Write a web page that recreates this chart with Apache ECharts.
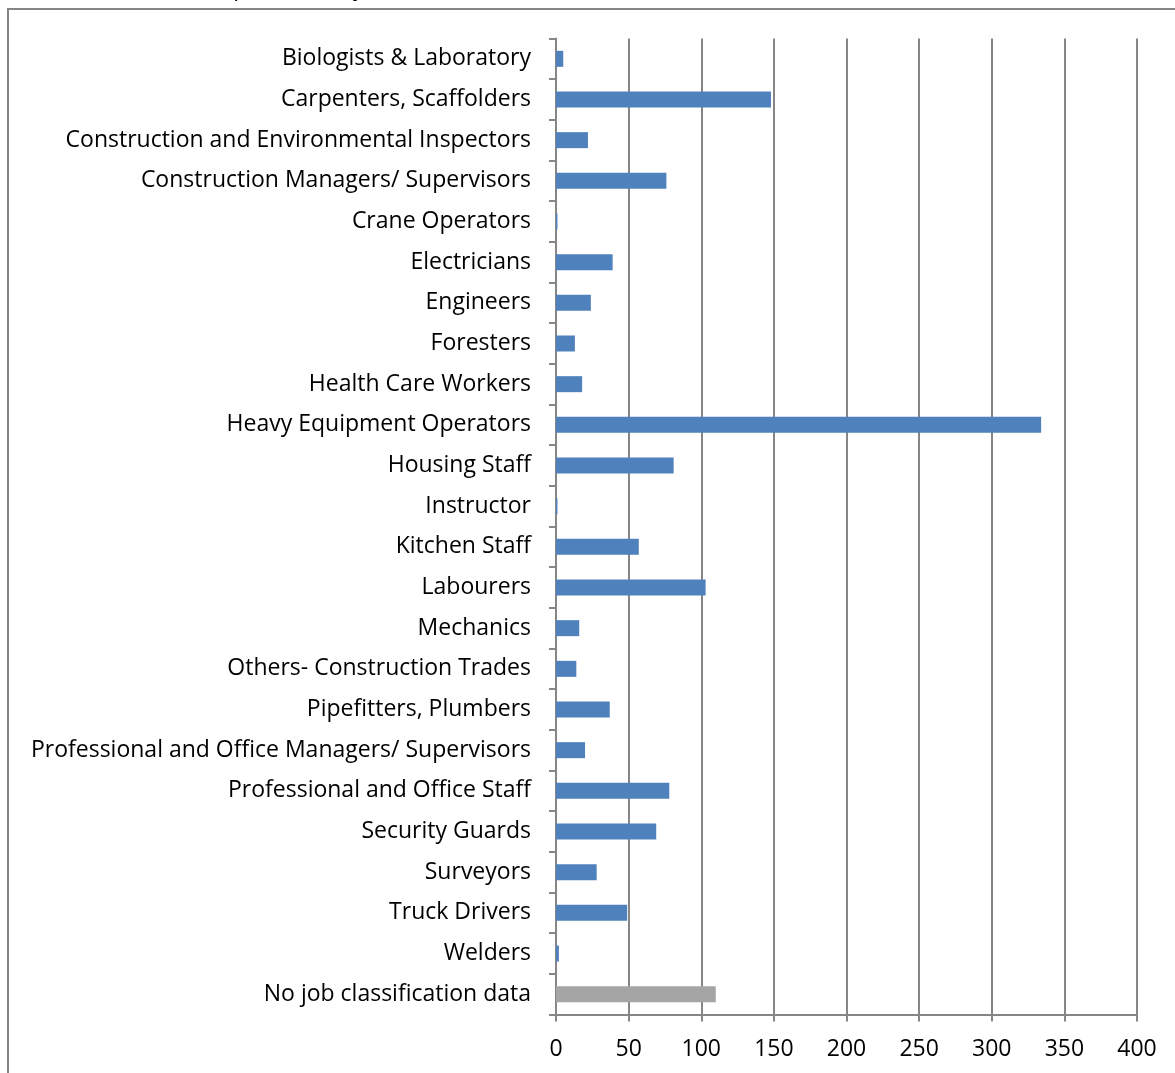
<!DOCTYPE html>
<html>
<head>
<meta charset="utf-8">
<script src="https://cdn.jsdelivr.net/npm/echarts@6/dist/echarts.min.js"></script>
<style>
  html, body { margin: 0; padding: 0; background: #fff; }
  #chart { width: 1175px; height: 1073px; }
</style>
</head>
<body>
<div id="chart"></div>
<script>
const categories = [
  'Biologists & Laboratory',
  'Carpenters, Scaffolders',
  'Construction and Environmental Inspectors',
  'Construction Managers/ Supervisors',
  'Crane Operators',
  'Electricians',
  'Engineers',
  'Foresters',
  'Health Care Workers',
  'Heavy Equipment Operators',
  'Housing Staff',
  'Instructor',
  'Kitchen Staff',
  'Labourers',
  'Mechanics',
  'Others- Construction Trades',
  'Pipefitters, Plumbers',
  'Professional and Office Managers/ Supervisors',
  'Professional and Office Staff',
  'Security Guards',
  'Surveyors',
  'Truck Drivers',
  'Welders',
  'No job classification data'
]
const workers = [5, 148, 22, 76, 1, 39, 24, 13, 18, 334, 81, 1, 57, 103, 16, 14, 37, 20, 78, 69, 28, 49, 2, 110]
const xTicks = [0, 50, 100, 150, 200, 250, 300, 350, 400]

const FONT = '"Open Sans", sans-serif'
const AXIS_GRAY = '#868686'

let chart = echarts.init(document.getElementById('chart'))

chart.setOption({
  animation: false,
  backgroundColor: '#fff',
  graphic: [
    // outer frame, runs off the right and bottom
    {
      type: 'rect',
      shape: { x: 8, y: 9, width: 1300, height: 1200 },
      style: { fill: 'none', stroke: AXIS_GRAY, lineWidth: 2 },
      silent: true
    },
    // caption cut off at the top of the picture
    {
      type: 'text',
      left: 0,
      top: -23,
      style: {
        text: 'workers in some occupations may not be included in the numbers',
        font: '23px ' + FONT,
        fill: '#000'
      },
      silent: true
    }
  ],
  grid: { left: 556, right: 38, top: 38.5, bottom: 58.5 },
  xAxis: {
    type: 'value',
    min: xTicks[0],
    max: xTicks[xTicks.length - 1],
    interval: 50,
    axisLine: { show: true, lineStyle: { color: AXIS_GRAY, width: 2 } },
    axisTick: { show: true, length: 7, lineStyle: { color: AXIS_GRAY, width: 2 } },
    splitLine: { show: true, lineStyle: { color: AXIS_GRAY, width: 2 } },
    axisLabel: { color: '#000', fontFamily: FONT, fontSize: 23, margin: 23 }
  },
  yAxis: {
    type: 'category',
    data: categories,
    inverse: true,
    axisLine: { show: true, lineStyle: { color: AXIS_GRAY, width: 2 } },
    axisTick: { show: true, length: 7, inside: false, lineStyle: { color: AXIS_GRAY, width: 2 } },
    axisLabel: { color: '#000', fontFamily: FONT, fontSize: 23, margin: 25 }
  },
  series: [
    {
      type: 'bar',
      data: workers,
      barWidth: 16,
      itemStyle: {
        color: p => (p.dataIndex === categories.length - 1 ? '#A5A5A5' : '#4F81BD')
      }
    }
  ]
})
</script>
</body>
</html>
